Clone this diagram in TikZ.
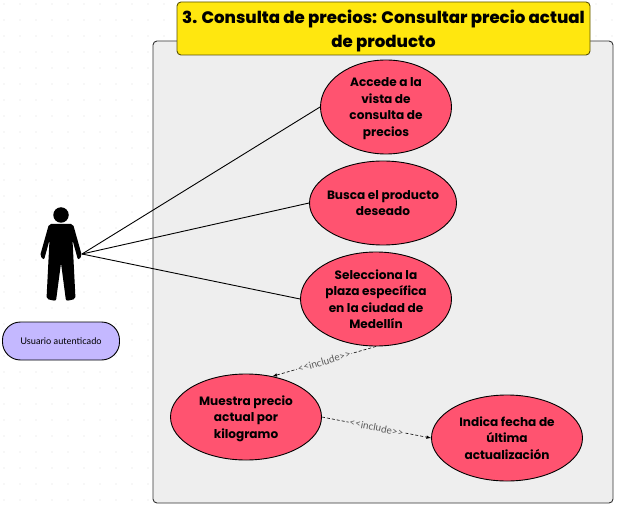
\documentclass[tikz,border=0pt]{standalone}
\usepackage{fontspec}
\setmainfont[BoldFont={Poppins ExtraBold}]{Poppins}
\newfontfamily\casefont[BoldFont={Poppins Bold}]{Poppins}
\newfontfamily\labelfont{Lato}
\usetikzlibrary{positioning,shapes.geometric}
\pgfdeclarelayer{background}
\pgfdeclarelayer{frame}
\pgfsetlayers{background,frame,main}
\definecolor{framefill}{HTML}{EEEEEE}
\definecolor{titlefill}{HTML}{FFE70F}
\definecolor{casefill}{HTML}{FF5370}
\definecolor{rolefill}{HTML}{C4B8FF}

\begin{document}
\begin{tikzpicture}[
  x=1pt,y=-1pt,
  usecase/.style={ellipse,draw=black,line width=0.9pt,fill=casefill,inner xsep=-20pt,inner ysep=-10pt,
    align=center,text depth=-3.5pt,font=\fontsize{12.1}{16.5}\casefont\bfseries},
  include/.style={draw=black,densely dashed,line width=0.6pt,-latex},
  inclabel/.style={sloped,fill=framefill,inner sep=1pt,text=black!65,
    font=\fontsize{10}{10}\labelfont},
  assoc/.style={draw=black,line width=0.9pt}
  ]
  \useasboundingbox (0,0) rectangle (620,510);

  \begin{pgfonlayer}{background}
    \fill [white] (0,0) rectangle (620,510);
    \foreach \i in {0,...,38}
      \foreach \j in {0,...,31}
        \fill [black!12] (4+16*\i,4+16*\j) circle (0.6);
  \end{pgfonlayer}

  \begin{pgfonlayer}{frame}
    \node (sys) [draw=black!80,fill=framefill,rounded corners=4pt,line width=0.9pt,
      minimum width=460pt,minimum height=462pt,inner sep=0pt] at (383,272) {};
    \node (title) [draw=black!65!titlefill,fill=titlefill,rounded corners=4pt,line width=0.9pt,
      minimum width=413pt,minimum height=53pt,inner sep=0pt,align=center,text depth=-2pt,
      font=\fontsize{16.6}{23.5}\selectfont\bfseries] at (383.5,28.5)
      {3. Consulta de precios: Consultar precio actual\\de producto};
  \end{pgfonlayer}

  \node (acc) [usecase,minimum width=131pt,minimum height=94pt] at (386,107)
    {Accede a la\\vista de\\consulta de\\precios};
  \node (bus) [usecase,minimum width=147pt,minimum height=84pt] at (383,203)
    {Busca el producto\\deseado};
  \node (sel) [usecase,minimum width=151pt,minimum height=94pt] at (376,299)
    {Selecciona la\\plaza específica\\en la ciudad de\\Medellín};
  \node (mue) [usecase,minimum width=151pt,minimum height=86pt] at (246,417)
    {Muestra precio\\actual por\\kilogramo};
  \node (ind) [usecase,minimum width=151pt,minimum height=86pt] at (507,438)
    {Indica fecha de\\última\\actualización};

  % actor
  \node (head) [circle,fill=black,minimum size=15.5pt,inner sep=0pt] at (61,215) {};
  \fill [black,rounded corners=2pt] (49,224) -- (73,224) -- (82,256) -- (78,260) -- (72.5,240)
    -- (75.5,299) -- (66,301) -- (61,263) -- (56,301) -- (46.5,299) -- (49.5,240)
    -- (44,260) -- (40,256) -- cycle;
  \coordinate (hand) at (82,254);

  \node (role) [draw=black,fill=rolefill,rounded corners=18pt,line width=0.9pt,
    minimum width=117pt,minimum height=38pt,inner sep=0pt,
    font=\fontsize{9.2}{10}\labelfont] at (61,341) {Usuario autenticado};

  \draw [assoc] (hand) -- (acc.west);
  \draw [assoc] (hand) -- (bus.west);
  \draw [assoc] (hand) -- (sel.west);

  \draw [include] (sel.south) -- node [inclabel] {{<}{<}include{>}{>}} (mue.57);
  \draw [include] (mue.east) -- node [inclabel] {{<}{<}include{>}{>}} (ind.west);
\end{tikzpicture}
\end{document}
